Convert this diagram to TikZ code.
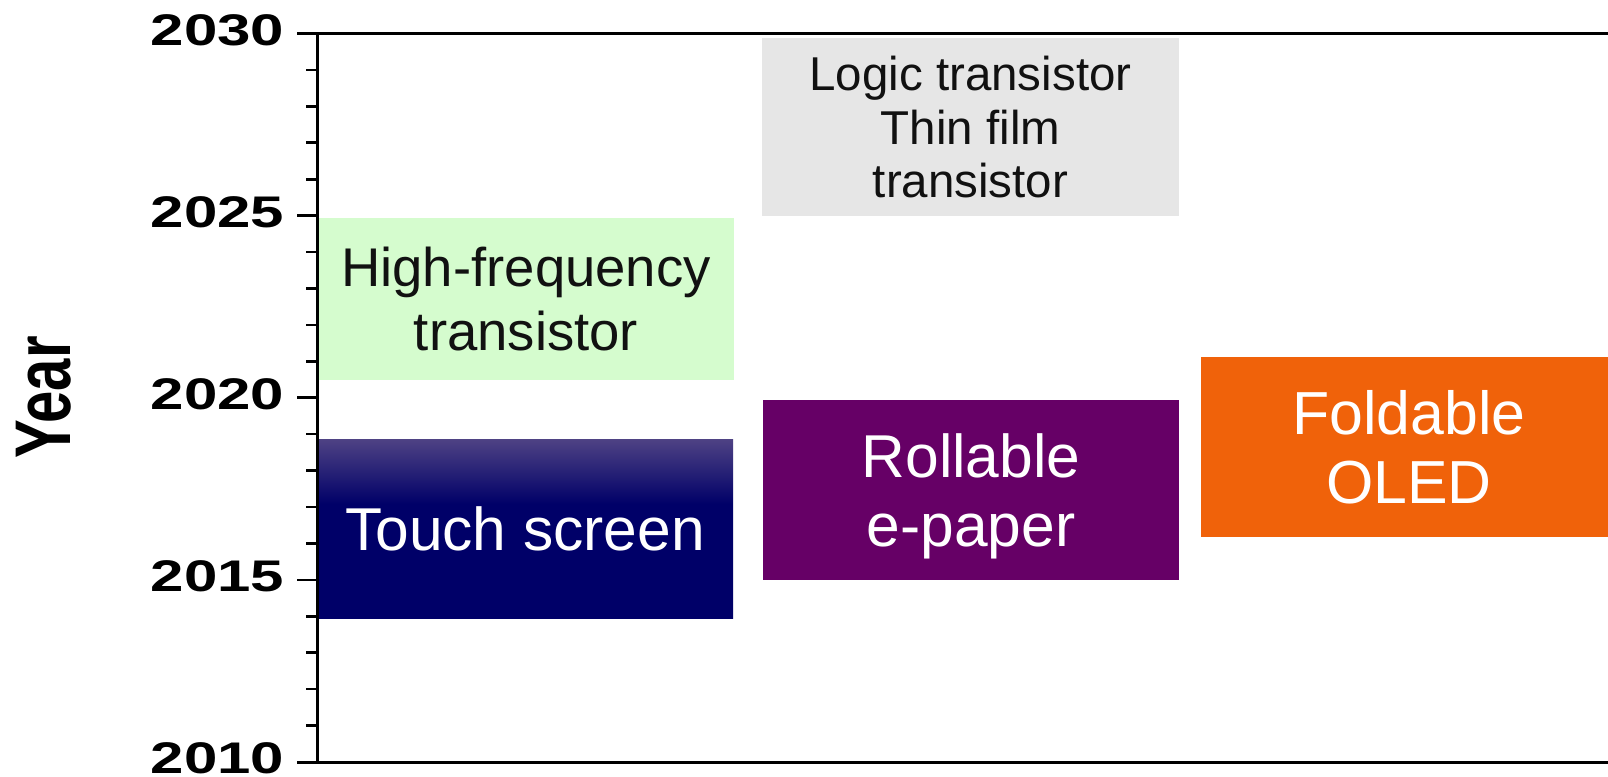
\documentclass[tikz,border=0pt]{standalone}
\usepackage{fontspec}
\usepackage{graphicx}
\setmainfont{Liberation Sans}
\definecolor{hfgreen}{RGB}{213,252,206}
\definecolor{logicgray}{RGB}{230,230,230}
\definecolor{navytop}{RGB}{78,66,132}
\definecolor{navy}{RGB}{0,0,104}
\definecolor{rollpurple}{RGB}{102,0,102}
\definecolor{foldorange}{RGB}{240,98,10}
\definecolor{inkdark}{RGB}{17,17,17}
% navy fill that lightens only in its upper third
\pgfdeclareverticalshading{touchfade}{100bp}{color(0bp)=(navy); color(25bp)=(navy);
  color(57bp)=(navy); color(75bp)=(navytop); color(100bp)=(navytop)}
\begin{document}
\begin{tikzpicture}[x=0.5pt,y=-0.5pt,
  bar/.style={rectangle, inner sep=0pt, align=center, text depth=0pt},
  axisline/.style={line width=1.5pt, black},
  tickline/.style={line width=1.3pt, black},
  ticklbl/.style={anchor=east, inner sep=0pt, text depth=0pt,
    font=\fontsize{22.15pt}{24pt}\selectfont\bfseries},
]
\useasboundingbox (0,0) rectangle (1608,777);
\clip (0,0) rectangle (1608,777);
\fill[white] (0,0) rectangle (1608,777);

% application bars
\node[bar, fill=logicgray, text=inkdark, minimum width=208.5pt, minimum height=89pt,
  font=\fontsize{23.75pt}{26.65pt}\selectfont] (logic) at (970.5,127)
  {Logic transistor\\Thin film\\transistor};
\node[bar, fill=hfgreen, text=inkdark, minimum width=208pt, minimum height=81.2pt,
  font=\fontsize{27.25pt}{31.7pt}\selectfont] (hf) at (526,298.8)
  {High-frequency\\transistor};
\node[bar, shade, shading=touchfade, text=white,
  minimum width=208pt, minimum height=89.5pt,
  font=\fontsize{30.25pt}{34.85pt}\selectfont] (touch) at (525,529)
  {Touch screen};
\node[bar, fill=rollpurple, text=white, minimum width=208pt, minimum height=90pt,
  font=\fontsize{30.25pt}{34.85pt}\selectfont] (roll) at (971,490)
  {Rollable\\e-paper};
\node[bar, fill=foldorange, text=white, minimum width=208pt, minimum height=90pt,
  font=\fontsize{30.4pt}{34.85pt}\selectfont] (fold) at (1409,447)
  {Foldable\\OLED};

% axes
\draw[axisline] (297,33.5) -- (1608,33.5);
\draw[axisline] (297,762) -- (1608,762);
\draw[axisline] (317,33.5) -- (317,762);
\foreach \yr in {2011,...,2029}
  \draw[tickline] (306,{762-(\yr-2010)*36.425}) -- (317,{762-(\yr-2010)*36.425});
\foreach \yr in {2015,2020,2025}
  \draw[tickline] (297,{762-(\yr-2010)*36.425}) -- (317,{762-(\yr-2010)*36.425});
\foreach \yr in {2010,2015,...,2030}
  \node[ticklbl] (lbl\yr) at (284.5,{762-(\yr-2010)*36.425-3.5}) {\scalebox{1.354}[1]{\yr}};

\node[rotate=90, inner sep=0pt, text depth=0pt,
  font=\fontsize{39.5pt}{44pt}\selectfont\bfseries] (ylabel) at (43.5,397.5)
  {\scalebox{0.735}[1]{Year}};
\end{tikzpicture}
\end{document}
